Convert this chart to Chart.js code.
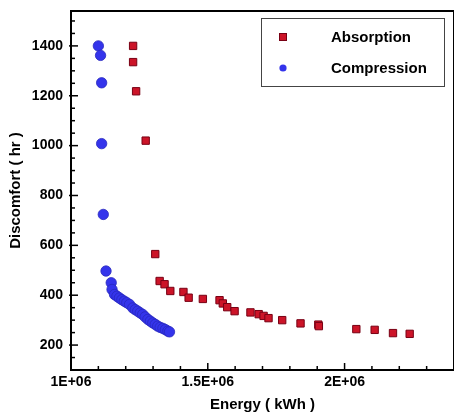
<!DOCTYPE html>
<html>
<head>
<meta charset="utf-8">
<script src="https://cdn.jsdelivr.net/npm/chart.js@4.4.1/dist/chart.umd.min.js"></script>
<style>
html,body{margin:0;padding:0;background:#fff;}
#c{display:block;}
</style>
</head>
<body>
<canvas id="c" width="454" height="417"></canvas>
<script>
// ---- data ----
const seriesNames = ['Absorption', 'Compression'];
const absorptionEnergy = [1.227e6,1.227e6,1.238e6,1.273e6,1.308e6,1.324e6,1.342e6,1.363e6,1.411e6,1.430e6,1.482e6,1.543e6,1.555e6,1.571e6,1.598e6,1.656e6,1.686e6,1.704e6,1.722e6,1.772e6,1.839e6,1.904e6,1.906e6,2.043e6,2.110e6,2.177e6,2.238e6];
const absorptionDiscomfort = [1400,1335,1218,1020,565,457,444,417,413,390,385,380,367,352,336,331,324,317,308,300,287,282,276,264,261,248,245];
const compressionEnergy = [1.100e6,1.108e6,1.112e6,1.112e6,1.118e6,1.128e6,1.147e6,1.150e6,1.159e6,1.168e6,1.177e6,1.186e6,1.195e6,1.204e6,1.214e6,1.226e6,1.235e6,1.244e6,1.253e6,1.262e6,1.271e6,1.281e6,1.290e6,1.299e6,1.308e6,1.317e6,1.326e6,1.336e6,1.345e6,1.354e6,1.360e6];
const compressionDiscomfort = [1400,1362,1252,1008,724,497,450,423,403,396,389,382,376,370,363,349,342,336,329,323,313,303,296,289,283,276,271,267,262,256,253];
const xTickValues = [1000000, 1500000, 2000000];
const xTickLabels = ['1E+06', '1.5E+06', '2E+06'];
const yTickValues = [200, 400, 600, 800, 1000, 1200, 1400];
const yTickLabels = ['200', '400', '600', '800', '1000', '1200', '1400'];

const toPoints = (xs, ys) => xs.map((x, i) => ({x: x, y: ys[i]}));
const FONT = '"Liberation Sans", Arial, sans-serif';
const RED = 'rgb(204,20,40)', RED_B = 'rgb(120,0,20)';
const BLUE = 'rgb(52,52,235)', BLUE_B = 'rgb(40,40,190)';

const near = (v, arr) => arr.findIndex(a => Math.abs(a - v) < 1e-6 * Math.max(1, Math.abs(a)));

const framePlugin = {
  id: 'frame',
  afterDraw(chart) {
    const ctx = chart.ctx, a = chart.chartArea;
    const xs = chart.scales.x, ys = chart.scales.y;
    ctx.save();
    ctx.strokeStyle = '#000';
    ctx.lineWidth = 1.5;
    for (let v = xs.min; v <= xs.max + 1; v += 100000) {
      const px = xs.getPixelForValue(v);
      const major = near(v, xTickValues) >= 0 || Math.abs(v % 500000) < 1;
      const len = major ? 7 : 4;
      ctx.beginPath(); ctx.moveTo(px, a.bottom); ctx.lineTo(px, a.bottom - len); ctx.stroke();
    }
    for (let v = ys.min; v <= ys.max + 0.001; v += 50) {
      const py = ys.getPixelForValue(v);
      const major = near(v, yTickValues) >= 0;
      const len = major ? 7 : 4;
      ctx.beginPath(); ctx.moveTo(a.left - (major ? 2 : 0), py); ctx.lineTo(a.left + len, py); ctx.stroke();
    }
    ctx.lineWidth = 2;
    ctx.strokeRect(a.left, a.top, a.right - a.left, a.bottom - a.top);
    // legend
    ctx.lineWidth = 1;
    ctx.strokeStyle = '#444';
    ctx.strokeRect(261.5, 18.5, 183, 68);
    ctx.fillStyle = RED; ctx.strokeStyle = RED_B;
    ctx.fillRect(279.5, 33.5, 7, 7); ctx.strokeRect(279.5, 33.5, 7, 7);
    ctx.fillStyle = BLUE;
    ctx.beginPath(); ctx.arc(283, 68, 3.6, 0, Math.PI * 2); ctx.fill();
    ctx.fillStyle = '#000';
    ctx.font = 'bold 15px ' + FONT;
    ctx.textBaseline = 'middle';
    ctx.textAlign = 'left';
    ctx.fillText(seriesNames[0], 331, 37.5);
    ctx.fillText(seriesNames[1], 331, 68.5);
    ctx.restore();
  }
};

Chart.defaults.font.family = FONT;
new Chart(document.getElementById('c'), {
  type: 'scatter',
  data: {
    datasets: [
      {label: seriesNames[0], data: toPoints(absorptionEnergy, absorptionDiscomfort), pointStyle: 'rect', pointRadius: 5.2, pointBackgroundColor: RED, pointBorderColor: RED_B, pointBorderWidth: 1},
      {label: seriesNames[1], data: toPoints(compressionEnergy, compressionDiscomfort), pointStyle: 'circle', pointRadius: 5.2, pointBackgroundColor: BLUE, pointBorderColor: BLUE_B, pointBorderWidth: 0.8}
    ]
  },
  options: {
    responsive: false,
    animation: false,
    devicePixelRatio: 1,
    layout: {autoPadding: false, padding: {top: 11, right: 0, left: 0, bottom: 3}},
    plugins: {legend: {display: false}, tooltip: {enabled: false}},
    scales: {
      x: {
        type: 'linear', min: 1000000, max: 2400000,
        afterFit: s => { s.height = 44; s.paddingRight = 0; },
        grid: {display: false, drawTicks: false},
        border: {display: false},
        ticks: {
          stepSize: 100000, autoSkip: false, maxRotation: 0, includeBounds: false, padding: 4,
          color: '#000', font: {size: 14, weight: 'bold', family: FONT},
          callback: v => { const i = near(v, xTickValues); return i >= 0 ? xTickLabels[i] : ''; }
        },
        title: {display: true, text: 'Energy ( kWh )', color: '#000', font: {size: 15, weight: 'bold', family: FONT}, padding: {top: 0, bottom: 0}}
      },
      y: {
        type: 'linear', min: 100, max: 1540,
        afterFit: s => { s.width = 71; s.paddingTop = 0; s.paddingBottom = 0; },
        grid: {display: false, drawTicks: false},
        border: {display: false},
        ticks: {
          stepSize: 50, autoSkip: false, includeBounds: false, padding: 8,
          color: '#000', font: {size: 14, weight: 'bold', family: FONT},
          callback: v => { const i = near(v, yTickValues); return i >= 0 ? yTickLabels[i] : ''; }
        },
        title: {display: true, text: 'Discomfort ( hr )', color: '#000', font: {size: 15, weight: 'bold', family: FONT}, padding: {top: 7, bottom: 0}}
      }
    }
  },
  plugins: [framePlugin]
});
</script>
</body>
</html>
